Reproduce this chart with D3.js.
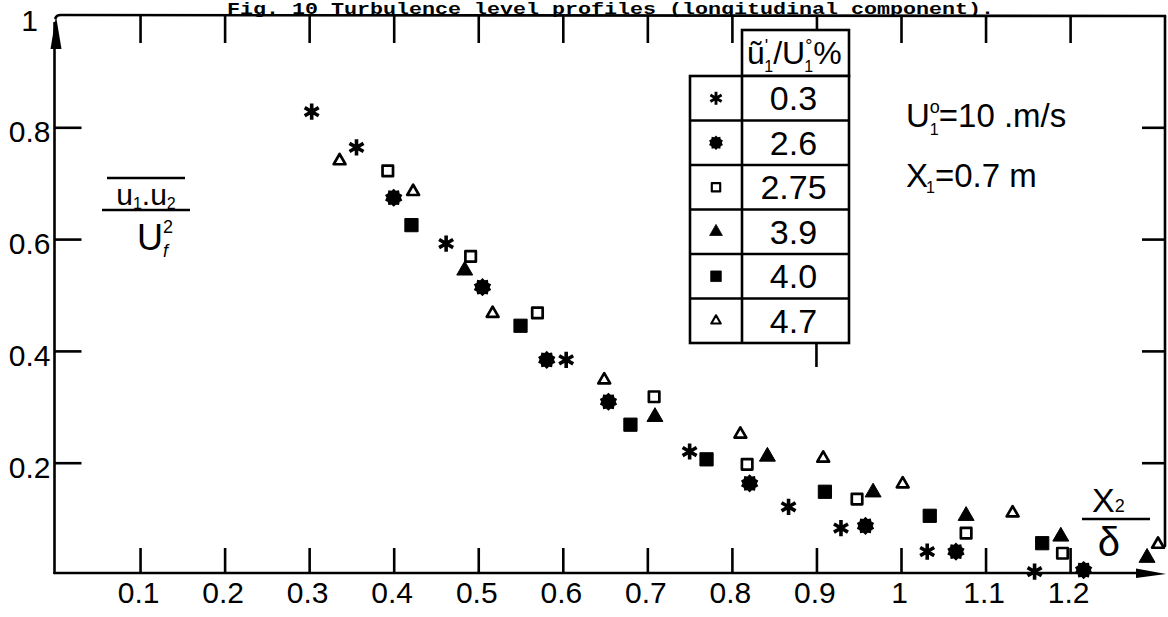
<!DOCTYPE html>
<html>
<head>
<meta charset="utf-8">
<script src="https://cdn.jsdelivr.net/npm/d3@7"></script>
<style>
  body { margin: 0; background: #fff; }
  svg { display: block; }
  text { fill: #000; }
</style>
</head>
<body>
<svg id="chart" width="1168" height="617"></svg>
<script>
// ---- data ---------------------------------------------------------------
const titleText = "Fig. 10 Turbulence level profiles (longitudinal component).";
const xTickValues = [0.1, 0.2, 0.3, 0.4, 0.5, 0.6, 0.7, 0.8, 0.9, 1, 1.1, 1.2];
const yTickValues = [0.2, 0.4, 0.6, 0.8];
const levels = ["0.3", "2.6", "2.75", "3.9", "4.0", "4.7"];
const markerKinds = ["asterisk", "flower", "openSquare", "filledTriangle", "filledSquare", "openTriangle"];

// turbulence level 0.3 %
const s03x = [0.303, 0.356, 0.462, 0.604, 0.750, 0.867, 0.929, 1.031, 1.158];
const s03y = [0.828, 0.764, 0.592, 0.384, 0.220, 0.121, 0.083, 0.041, 0.005];
// 2.6 %
const s26x = [0.400, 0.505, 0.581, 0.654, 0.821, 0.958, 1.065, 1.216];
const s26y = [0.674, 0.514, 0.384, 0.309, 0.163, 0.087, 0.041, 0.008];
// 2.75 %
const s275x = [0.393, 0.491, 0.570, 0.708, 0.818, 0.948, 1.077, 1.191];
const s275y = [0.722, 0.569, 0.468, 0.318, 0.197, 0.135, 0.074, 0.038];
// 3.9 %
const s39x = [0.484, 0.709, 0.842, 0.967, 1.077, 1.189, 1.291];
const s39y = [0.544, 0.282, 0.211, 0.147, 0.105, 0.068, 0.030];
// 4.0 %
const s40x = [0.421, 0.550, 0.680, 0.770, 0.910, 1.034, 1.167];
const s40y = [0.625, 0.445, 0.268, 0.206, 0.148, 0.105, 0.056];
// 4.7 %
const s47x = [0.336, 0.423, 0.517, 0.649, 0.810, 0.908, 1.002, 1.132, 1.304];
const s47y = [0.740, 0.685, 0.467, 0.348, 0.251, 0.208, 0.162, 0.110, 0.054];

const seriesX = [s03x, s26x, s275x, s39x, s40x, s47x];
const seriesY = [s03y, s26y, s275y, s39y, s40y, s47y];

// ---- layout ---------------------------------------------------------------
const svg = d3.select("#chart");
const x = d3.scaleLinear().domain([0, 1]).range([55.5, 901]);
const y = d3.scaleLinear().domain([0, 1]).range([574.5, 15.5]);

const axisX = 54.5;       // left vertical axis
const baseY = 573;        // bottom horizontal axis
const topY = 15;          // top frame line
const rightX = 1165;      // right frame line
const ink = "#000";
const lw = 2.6;
const numFont = "'Liberation Sans', Arial, sans-serif";

svg.append("rect").attr("width", 1168).attr("height", 617).attr("fill", "#fff");

// ---- title -------------------------------------------------------------
svg.append("text")
  .attr("x", 227).attr("y", 13.5)
  .attr("font-family", "'Liberation Mono', 'DejaVu Sans Mono', monospace")
  .attr("font-weight", "bold")
  .attr("font-size", 17)
  .attr("textLength", 767)
  .attr("lengthAdjust", "spacingAndGlyphs")
  .text(titleText);

// ---- frame lines ---------------------------------------------------------
const frame = svg.append("g").attr("stroke", ink).attr("stroke-width", lw).attr("fill", "none")
  .attr("stroke-linecap", "round");
frame.append("line").attr("x1", axisX).attr("y1", baseY).attr("x2", axisX).attr("y2", topY + 8);
frame.append("path").attr("d", `M${axisX + 1},${topY + 3} Q${axisX + 2},${topY} ${axisX + 6},${topY} L${rightX},${topY + 1}`);
frame.append("line").attr("x1", rightX).attr("y1", topY + 1).attr("x2", rightX).attr("y2", 546);
frame.append("line").attr("x1", axisX).attr("y1", baseY).attr("x2", 1150).attr("y2", baseY);

// arrow heads
svg.append("path")
  .attr("d", `M${axisX + 1.5},${topY + 1} L${axisX - 4},${topY + 34} L${axisX + 7},${topY + 34} Z`)
  .attr("fill", ink);
svg.append("path")
  .attr("d", `M1166,${baseY + 1} L1136,${baseY - 4.5} L1136,${baseY + 5} Z`)
  .attr("fill", ink);

// ---- axes ---------------------------------------------------------------
function styleAxis(g) {
  g.select(".domain").remove();
  g.selectAll(".tick line").attr("stroke", ink).attr("stroke-width", lw);
  g.selectAll(".tick text").attr("font-family", numFont).attr("font-size", 30).attr("fill", ink);
}

svg.append("g")
  .attr("transform", `translate(0,${baseY})`)
  .call(d3.axisBottom(x).tickValues(xTickValues).tickFormat(d3.format("~g"))
    .tickSizeInner(-25).tickSizeOuter(0).tickPadding(9))
  .call(styleAxis)
  .call(g => g.selectAll(".tick text").attr("dx", -2));

svg.append("g")
  .attr("transform", `translate(0,${topY})`)
  .call(d3.axisTop(x).tickValues(xTickValues).tickFormat("")
    .tickSizeInner(-28).tickSizeOuter(0))
  .call(styleAxis);

svg.append("g")
  .attr("transform", `translate(${axisX},0)`)
  .call(d3.axisLeft(y).tickValues(yTickValues).tickFormat(d3.format(".1f"))
    .tickSizeInner(-27).tickSizeOuter(0).tickPadding(4))
  .call(styleAxis)
  .call(g => g.selectAll(".tick text").attr("dy", "0.48em"));

svg.append("g")
  .attr("transform", `translate(${rightX},0)`)
  .call(d3.axisRight(y).tickValues(yTickValues).tickFormat("")
    .tickSizeInner(-23).tickSizeOuter(0))
  .call(styleAxis);

// top value of the vertical axis
svg.append("text")
  .attr("x", 38).attr("y", y(1) + 15)
  .attr("text-anchor", "end")
  .attr("font-family", numFont).attr("font-size", 30)
  .text("1");

// ---- marker shapes ------------------------------------------------------
const symbolFlower = {
  draw(ctx, size) {
    const r = Math.sqrt(size / Math.PI);
    const n = 10;
    for (let i = 0; i < 2 * n; i++) {
      const a = i * Math.PI / n;
      const rr = i % 2 ? r * 0.8 : r;
      const px = rr * Math.sin(a), py = -rr * Math.cos(a);
      if (i) ctx.lineTo(px, py); else ctx.moveTo(px, py);
    }
    ctx.closePath();
  }
};

const markerStyle = {
  asterisk:       { type: d3.symbolAsterisk,  size: 185, fill: "none", stroke: ink, sw: 3.6 },
  flower:         { type: symbolFlower,       size: 260, fill: ink,    stroke: "none", sw: 0 },
  openSquare:     { type: d3.symbolSquare2,   size: 140, fill: "#fff", stroke: ink, sw: 2.7 },
  filledTriangle: { type: d3.symbolTriangle,  size: 110, fill: ink,    stroke: ink, sw: 1 },
  filledSquare:   { type: d3.symbolSquare,    size: 175, fill: ink,    stroke: ink, sw: 1 },
  openTriangle:   { type: d3.symbolTriangle2, size: 100, fill: "#fff", stroke: ink, sw: 2.7 }
};

function drawMarker(sel, kind, scale) {
  const m = markerStyle[kind];
  sel.attr("d", d3.symbol().type(m.type).size(m.size * scale * scale))
    .attr("fill", m.fill)
    .attr("stroke", m.stroke)
    .attr("stroke-width", m.sw * scale)
    .attr("stroke-linejoin", "round");
}

// ---- data points --------------------------------------------------------
const pointsLayer = svg.append("g");
levels.forEach((lev, i) => {
  const pts = seriesX[i].map((v, j) => ({ x: v, y: seriesY[i][j] }));
  pointsLayer.append("g")
    .selectAll("path")
    .data(pts)
    .join("path")
    .attr("transform", d => `translate(${x(d.x)},${y(d.y)})`)
    .call(drawMarker, markerKinds[i], 1);
});

// ---- legend table -------------------------------------------------------
const leg = { left: 690, mid: 742, right: 849, headTop: 30, rowTop: 76, rowH: 44.5 };
const legG = svg.append("g");
// stub of the 0.9 top tick below the table
legG.append("line")
  .attr("x1", x(0.9)).attr("x2", x(0.9))
  .attr("y1", leg.rowTop + leg.rowH * levels.length).attr("y2", 367)
  .attr("stroke", ink).attr("stroke-width", lw);
legG.append("rect")
  .attr("x", leg.mid).attr("y", leg.headTop)
  .attr("width", leg.right - leg.mid).attr("height", leg.rowTop - leg.headTop)
  .attr("fill", "#fff").attr("stroke", ink).attr("stroke-width", lw);
legG.append("rect")
  .attr("x", leg.left).attr("y", leg.rowTop)
  .attr("width", leg.right - leg.left).attr("height", leg.rowH * levels.length)
  .attr("fill", "#fff").attr("stroke", ink).attr("stroke-width", lw);
legG.append("line")
  .attr("x1", leg.mid).attr("x2", leg.mid)
  .attr("y1", leg.rowTop).attr("y2", leg.rowTop + leg.rowH * levels.length)
  .attr("stroke", ink).attr("stroke-width", lw);
levels.forEach((lev, i) => {
  const cy = leg.rowTop + leg.rowH * (i + 0.5);
  if (i > 0) {
    legG.append("line")
      .attr("x1", leg.left).attr("x2", leg.right)
      .attr("y1", leg.rowTop + leg.rowH * i).attr("y2", leg.rowTop + leg.rowH * i)
      .attr("stroke", ink).attr("stroke-width", lw);
  }
  legG.append("path")
    .attr("transform", `translate(${(leg.left + leg.mid) / 2},${cy})`)
    .call(drawMarker, markerKinds[i], 0.8);
  legG.append("text")
    .attr("x", (leg.mid + leg.right) / 2 - 2).attr("y", cy + 12)
    .attr("text-anchor", "middle")
    .attr("font-family", numFont).attr("font-size", 34)
    .text(lev);
});
// column heading: u'1 / U°1 %
const head = legG.append("text")
  .attr("x", leg.mid + 5).attr("y", leg.headTop + 34)
  .attr("font-family", numFont).attr("font-size", 32);
head.append("tspan").text("ũ");
head.append("tspan").attr("font-size", 18).attr("dy", -12).text("'");
head.append("tspan").attr("font-size", 16).attr("dy", 20).attr("dx", -4).text("1");
head.append("tspan").attr("dy", -8).text("/U");
head.append("tspan").attr("font-size", 18).attr("dy", -12).text("°");
head.append("tspan").attr("font-size", 16).attr("dy", 20).attr("dx", -8).text("1");
head.append("tspan").attr("dy", -8).text("%");

// ---- vertical axis quantity: u1.u2 (mean) / Uf^2 ---------------------------
const lab = svg.append("g").attr("font-family", numFont);
lab.append("line").attr("x1", 107).attr("x2", 185).attr("y1", 178).attr("y2", 178)
  .attr("stroke", ink).attr("stroke-width", lw);
lab.append("line").attr("x1", 102).attr("x2", 190).attr("y1", 210).attr("y2", 210)
  .attr("stroke", ink).attr("stroke-width", lw);
const num = lab.append("text").attr("x", 146).attr("y", 205).attr("text-anchor", "middle").attr("font-size", 30);
num.append("tspan").text("u");
num.append("tspan").attr("font-size", 16).attr("dy", 4).text("1");
num.append("tspan").attr("dy", -4).text(".u");
num.append("tspan").attr("font-size", 16).attr("dy", 4).text("2");
const den = lab.append("text").attr("x", 137).attr("y", 250).attr("font-size", 36);
den.append("tspan").text("U");
den.append("tspan").attr("font-size", 18).attr("dy", -17).text("2");
den.append("tspan").attr("font-size", 18).attr("dy", 24).attr("dx", -10).attr("font-style", "italic").text("f");

// ---- horizontal axis quantity: X2 / delta -----------------------------------
const xl = svg.append("g").attr("font-family", numFont);
const xn = xl.append("text").attr("x", 1092).attr("y", 512).attr("font-size", 34);
xn.append("tspan").text("X");
xn.append("tspan").attr("font-size", 18).attr("dy", 0).text("2");
xl.append("line").attr("x1", 1082).attr("x2", 1150).attr("y1", 519).attr("y2", 519)
  .attr("stroke", ink).attr("stroke-width", lw);
xl.append("text").attr("x", 1109).attr("y", 556).attr("text-anchor", "middle")
  .attr("font-size", 40).text("δ");

// ---- flow conditions ----------------------------------------------------
const cond = svg.append("g").attr("font-family", numFont).attr("font-size", 33);
const c1 = cond.append("text").attr("x", 906).attr("y", 127);
c1.append("tspan").text("U");
c1.append("tspan").attr("font-size", 18).attr("dy", -14).text("o");
c1.append("tspan").attr("font-size", 16).attr("dy", 22).attr("dx", -10).text("1");
c1.append("tspan").attr("dy", -8).text("=10 .m/s");
const c2 = cond.append("text").attr("x", 906).attr("y", 187);
c2.append("tspan").text("X");
c2.append("tspan").attr("font-size", 16).attr("dy", 6).attr("dx", -2).text("1");
c2.append("tspan").attr("dy", -6).text("=0.7 m");
</script>
</body>
</html>
